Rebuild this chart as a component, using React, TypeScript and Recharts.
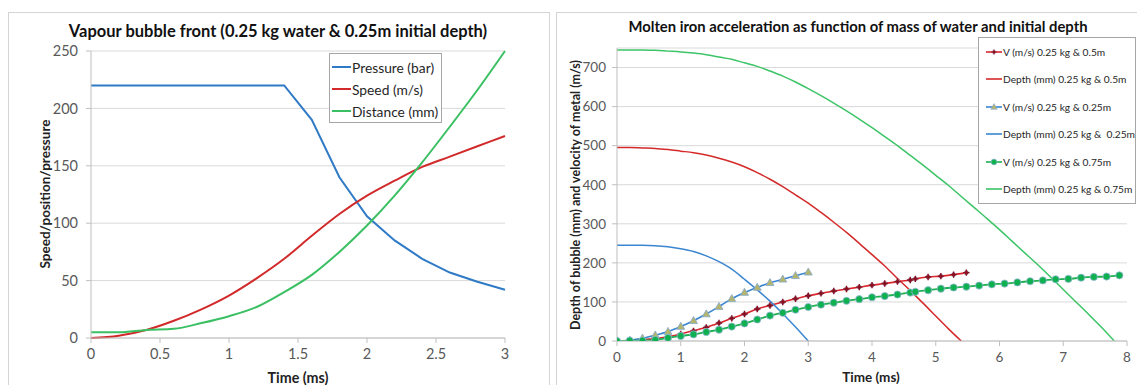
import { LineChart, Line, XAxis, YAxis, CartesianGrid, Legend } from "recharts";

const FONT = "Lato, 'Open Sans', sans-serif";

// ─── Left chart: vapour bubble front ───────────────────────────────────────────

const bubbleTime = [0, 0.2, 0.4, 0.6, 0.8, 1, 1.2, 1.4, 1.6, 1.8, 2, 2.2, 2.4, 2.6, 2.8, 3];
const pressureBar = [220, 220, 220, 220, 220, 220, 220, 220, 190, 140, 106, 85, 69, 57, 49, 42];
const speedMs = [0, 2, 7, 15, 25, 37, 52, 69, 89, 108, 124, 137, 149, 158, 167, 176];
const distanceMm = [5, 5, 7, 8, 13, 19, 27, 40, 55, 75, 98, 124, 153, 184, 216, 250];
const bubbleXTicks = [0, 0.5, 1, 1.5, 2, 2.5, 3];
const bubbleYTicks = [0, 50, 100, 150, 200, 250];

// ─── Right chart: molten iron acceleration ─────────────────────────────────────

// velocity samples (markers); the 0.5m and 0.75m runs change step after 4.6 ms
const vTime25 = [0, 0.2, 0.4, 0.6, 0.8, 1, 1.2, 1.4, 1.6, 1.8, 2, 2.2, 2.4, 2.6, 2.8, 3];
const v25 = [0, 2, 7, 15, 24, 37, 52, 69, 88, 108, 124, 137, 149, 158, 167, 176];

const vTime50 = [
  0, 0.2, 0.4, 0.6, 0.8, 1, 1.2, 1.4, 1.6, 1.8, 2, 2.2, 2.4, 2.6, 2.8, 3, 3.2, 3.4, 3.6, 3.8, 4, 4.2,
  4.4, 4.6, 4.68, 4.88, 5.08, 5.28, 5.48,
];
const v50 = [
  0, 1, 3, 6, 11, 18, 26, 35, 46, 58, 69, 82, 91, 100, 108, 116, 122, 128, 133, 138, 143, 147, 152,
  156, 159, 164, 166, 170, 175,
];

const vTime75 = [
  0, 0.2, 0.4, 0.6, 0.8, 1, 1.2, 1.4, 1.6, 1.8, 2, 2.2, 2.4, 2.6, 2.8, 3, 3.2, 3.4, 3.6, 3.8, 4, 4.2,
  4.4, 4.6, 4.68, 4.88, 5.08, 5.28, 5.48, 5.68, 5.88, 6.08, 6.28, 6.48, 6.68, 6.88, 7.08, 7.28, 7.48,
  7.68, 7.88,
];
const v75 = [
  0, 1, 1, 3, 8, 13, 17, 23, 29, 37, 45, 55, 65, 72, 80, 87, 93, 98, 103, 107, 112, 115, 119, 124,
  126, 130, 134, 137, 139, 142, 145, 147, 150, 153, 155, 158, 159, 162, 164, 165, 168,
];

// depth curves share one 0.2 ms grid
const depthTime = [
  0, 0.2, 0.4, 0.6, 0.8, 1, 1.2, 1.4, 1.6, 1.8, 2, 2.2, 2.4, 2.6, 2.8, 3, 3.2, 3.4, 3.6, 3.8, 4, 4.2,
  4.4, 4.6, 4.8, 5, 5.2, 5.4, 5.6, 5.8, 6, 6.2, 6.4, 6.6, 6.8, 7, 7.2, 7.4, 7.6, 7.8,
];
const depth25 = [245, 245, 245, 244, 241, 236, 229, 218, 203, 184, 158, 131, 102, 70, 36, 0];
const depth50 = [
  495, 495, 494, 493, 490, 486, 482, 476, 468, 458, 446, 431, 414, 395, 374, 353, 329, 304, 278,
  250, 221, 192, 160, 129, 97, 64, 31, 0,
];
const depth75 = [
  745, 745, 745, 744, 742, 740, 737, 733, 727, 721, 712, 703, 691, 678, 663, 646, 628, 609, 589,
  568, 546, 523, 500, 475, 450, 424, 398, 370, 342, 314, 285, 255, 225, 195, 164, 132, 100, 68, 35,
  0,
];
const ironXTicks = [0, 1, 2, 3, 4, 5, 6, 7, 8];
const ironYTicks = [0, 100, 200, 300, 400, 500, 600, 700];

const bubbleData = bubbleTime.map((t, i) => ({
  t,
  pressure: pressureBar[i],
  speed: speedMs[i],
  distance: distanceMm[i],
}));

const toPoints = (ts: number[], vs: number[]) => vs.map((v, i) => ({ t: ts[i], v }));

// ─── Markers ───────────────────────────────────────────────────────────────────

type MarkKind = "none" | "plus" | "triangle" | "circle";

function Mark({ kind, cx, cy }: { kind: MarkKind; cx: number; cy: number }) {
  if (kind === "plus") {
    return (
      <g>
        <circle cx={cx} cy={cy} r={2.2} fill="#8a0f1f" stroke="#9fb6d6" strokeWidth={0.6} />
        <path d={`M${cx - 3.2},${cy}H${cx + 3.2}M${cx},${cy - 3.2}V${cy + 3.2}`} stroke="#8a0f1f" strokeWidth={1.4} />
      </g>
    );
  }
  if (kind === "triangle") {
    return (
      <path
        d={`M${cx},${cy - 4.2}L${cx + 4},${cy + 2.8}L${cx - 4},${cy + 2.8}Z`}
        fill="#b4b56c"
        stroke="#86a9cf"
        strokeWidth={0.8}
      />
    );
  }
  if (kind === "circle") {
    return <circle cx={cx} cy={cy} r={3.6} fill="#0fb04f" stroke="#9ab8dc" strokeWidth={0.8} />;
  }
  return null;
}

const markDot = (kind: MarkKind) => (p: any) => <Mark key={`m-${p.index}`} kind={kind} cx={p.cx} cy={p.cy} />;

// ─── Legend box ────────────────────────────────────────────────────────────────

interface LegendSpec {
  order: string[];
  marks: Record<string, MarkKind>;
  width: number;
  rowHeight: number;
  padTop: number;
  padLeft: number;
  sample: number;
  fontSize: number;
  stroke: number;
}

function BoxLegend({ payload, spec }: { payload?: any[]; spec: LegendSpec }) {
  const items = [...(payload ?? [])].sort(
    (a, b) => spec.order.indexOf(a.value) - spec.order.indexOf(b.value)
  );
  return (
    <div
      style={{
        width: spec.width,
        boxSizing: "border-box",
        border: "1px solid #a6a6a6",
        background: "#fff",
        paddingTop: spec.padTop,
        paddingLeft: spec.padLeft,
        fontFamily: FONT,
      }}
    >
      {items.map((e) => (
        <div key={e.value} style={{ display: "flex", alignItems: "center", height: spec.rowHeight }}>
          <svg width={spec.sample + 1} height={10} style={{ flex: "none" }}>
            <line x1={0} y1={5} x2={spec.sample} y2={5} stroke={e.color} strokeWidth={spec.stroke} />
            <g transform="scale(0.8)" transform-origin={`${spec.sample / 2} 5`}>
              <Mark kind={spec.marks[e.value] ?? "none"} cx={spec.sample / 2} cy={5} />
            </g>
          </svg>
          <span style={{ fontSize: spec.fontSize, color: "#262626", whiteSpace: "pre" }}>{e.value}</span>
        </div>
      ))}
    </div>
  );
}

// ─── Axis titles (fixed positions in chart coordinates) ────────────────────────

function XTitle({ text, cx, cy, size }: { text: string; cx: number; cy: number; size: number }) {
  return (
    <text x={cx} y={cy} textAnchor="middle" dominantBaseline="central" fontSize={size} fontWeight={700} fill="#222" fontFamily={FONT}>
      {text}
    </text>
  );
}

function YTitle({ text, cx, cy, size }: { text: string; cx: number; cy: number; size: number }) {
  return (
    <text
      x={cx}
      y={cy}
      transform={`rotate(-90 ${cx} ${cy})`}
      textAnchor="middle"
      dominantBaseline="central"
      fontSize={size}
      fontWeight={700}
      fill="#222"
      fontFamily={FONT}
    >
      {text}
    </text>
  );
}

const bubbleLegend: LegendSpec = {
  order: ["Pressure (bar)", "Speed (m/s)", "Distance (mm)"],
  marks: {},
  width: 113,
  rowHeight: 22,
  padTop: 2,
  padLeft: 2,
  sample: 19,
  fontSize: 13.8,
  stroke: 2,
};

const ironLegend: LegendSpec = {
  order: [
    "V (m/s) 0.25 kg & 0.5m",
    "Depth (mm) 0.25 kg & 0.5m",
    "V (m/s) 0.25 kg & 0.25m",
    "Depth (mm) 0.25 kg &  0.25m",
    "V (m/s) 0.25 kg & 0.75m",
    "Depth (mm) 0.25 kg & 0.75m",
  ],
  marks: {
    "V (m/s) 0.25 kg & 0.5m": "plus",
    "V (m/s) 0.25 kg & 0.25m": "triangle",
    "V (m/s) 0.25 kg & 0.75m": "circle",
  },
  width: 158,
  rowHeight: 27.5,
  padTop: 0,
  padLeft: 7,
  sample: 16,
  fontSize: 10.2,
  stroke: 1.6,
};

const tickStyle = (size: number) => ({ fontSize: size, fill: "#595959", fontFamily: FONT });

export default function App() {
  return (
    <div
      style={{
        position: "absolute",
        left: 0,
        top: 0,
        width: 1137,
        height: 385,
        overflow: "hidden",
        background: "#fff",
        fontFamily: FONT,
      }}
    >
      {/* chart frames */}
      <div style={{ position: "absolute", left: 8, top: 12, width: 540, height: 400, border: "1px solid #d4d4d4" }} />
      <div style={{ position: "absolute", left: 556, top: 12, width: 600, height: 400, border: "1px solid #d4d4d4" }} />

      {/* titles */}
      <div style={{ position: "absolute", left: 0, top: 20, width: 556, textAlign: "center", fontSize: 16.5, fontWeight: 700, color: "#111", lineHeight: "22px" }}>
        Vapour bubble front (0.25 kg water &amp; 0.25m initial depth)
      </div>
      <div style={{ position: "absolute", left: 558, top: 16, width: 600, textAlign: "center", fontSize: 14.8, fontWeight: 700, color: "#111", lineHeight: "20px" }}>
        Molten iron acceleration as function of mass of water and initial depth
      </div>

      {/* left chart */}
      <div style={{ position: "absolute", left: 0, top: 0 }}>
        <LineChart width={556} height={385} data={bubbleData} margin={{ top: 51, right: 51, bottom: 17, left: 51 }}>
          <CartesianGrid vertical={false} stroke="#d9d9d9" />
          <XAxis
            dataKey="t"
            type="number"
            domain={[0, 3]}
            ticks={bubbleXTicks}
            height={30}
            stroke="#bfbfbf"
            tickSize={5}
            tickMargin={6}
            tick={tickStyle(14.5)}
            label={<XTitle text="Time (ms)" cx={298} cy={377} size={14.3} />}
          />
          <YAxis
            type="number"
            domain={[0, 250]}
            ticks={bubbleYTicks}
            width={40}
            stroke="#bfbfbf"
            tickSize={5}
            tickMargin={8}
            tick={tickStyle(14.5)}
            label={<YTitle text="Speed/position/pressure" cx={45} cy={194} size={13.5} />}
          />
          <Legend
            layout="vertical"
            align="center"
            verticalAlign="middle"
            wrapperStyle={{ left: 329, top: 53, width: 113 }}
            content={(props: any) => <BoxLegend payload={props.payload} spec={bubbleLegend} />}
          />
          <Line type="linear" dataKey="pressure" name="Pressure (bar)" stroke="#2f7ac6" strokeWidth={2} dot={false} activeDot={false} isAnimationActive={false} />
          <Line type="monotone" dataKey="speed" name="Speed (m/s)" stroke="#d22a2a" strokeWidth={2} dot={false} activeDot={false} isAnimationActive={false} />
          <Line type="monotone" dataKey="distance" name="Distance (mm)" stroke="#3ac062" strokeWidth={2} dot={false} activeDot={false} isAnimationActive={false} />
        </LineChart>
      </div>

      {/* right chart */}
      <div style={{ position: "absolute", left: 556, top: 0 }}>
        <LineChart width={581} height={385} margin={{ top: 48, right: 10, bottom: 14, left: 21 }}>
          <CartesianGrid vertical={false} stroke="#d9d9d9" />
          <XAxis
            dataKey="t"
            type="number"
            domain={[0, 8]}
            ticks={ironXTicks}
            height={30}
            stroke="#bfbfbf"
            tickSize={5}
            tickMargin={6}
            tick={tickStyle(13.5)}
            allowDataOverflow
            label={<XTitle text="Time (ms)" cx={315} cy={377} size={13.5} />}
          />
          <YAxis
            type="number"
            domain={[0, 750]}
            ticks={ironYTicks}
            width={40}
            stroke="#bfbfbf"
            tickSize={5}
            tickMargin={6}
            tick={tickStyle(13.5)}
            allowDataOverflow
            label={<YTitle text="Depth of bubble (mm) and velocity of metal (m/s)" cx={19} cy={195} size={12.5} />}
          />
          <Legend
            layout="vertical"
            align="center"
            verticalAlign="middle"
            wrapperStyle={{ left: 422, top: 37, width: 158 }}
            content={(props: any) => <BoxLegend payload={props.payload} spec={ironLegend} />}
          />
          <Line data={toPoints(vTime50, v50)} dataKey="v" name="V (m/s) 0.25 kg & 0.5m" type="monotone" stroke="#d8262c" strokeWidth={1.6} dot={markDot("plus")} activeDot={false} isAnimationActive={false} />
          <Line data={toPoints(depthTime, depth50)} dataKey="v" name="Depth (mm) 0.25 kg & 0.5m" type="monotone" stroke="#d42a2a" strokeWidth={1.5} dot={false} activeDot={false} isAnimationActive={false} />
          <Line data={toPoints(vTime25, v25)} dataKey="v" name="V (m/s) 0.25 kg & 0.25m" type="monotone" stroke="#3a86d0" strokeWidth={1.6} dot={markDot("triangle")} activeDot={false} isAnimationActive={false} />
          <Line data={toPoints(depthTime, depth25)} dataKey="v" name="Depth (mm) 0.25 kg &  0.25m" type="monotone" stroke="#3a86d0" strokeWidth={1.5} dot={false} activeDot={false} isAnimationActive={false} />
          <Line data={toPoints(vTime75, v75)} dataKey="v" name="V (m/s) 0.25 kg & 0.75m" type="monotone" stroke="#1fb052" strokeWidth={1.8} dot={markDot("circle")} activeDot={false} isAnimationActive={false} />
          <Line data={toPoints(depthTime, depth75)} dataKey="v" name="Depth (mm) 0.25 kg & 0.75m" type="monotone" stroke="#3cc467" strokeWidth={1.5} dot={false} activeDot={false} isAnimationActive={false} />
        </LineChart>
      </div>
    </div>
  );
}
